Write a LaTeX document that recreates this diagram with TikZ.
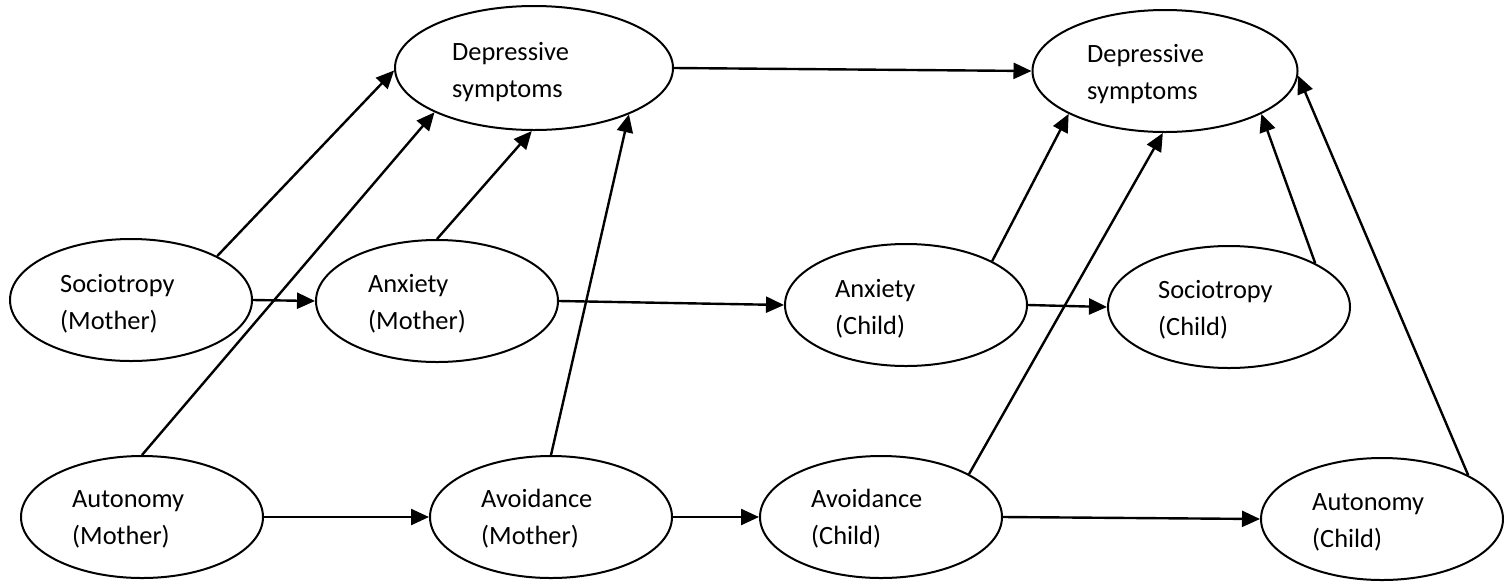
\documentclass[tikz,border=0pt]{standalone}
\usepackage{fontspec}
\setmainfont{Carlito}
\usetikzlibrary{shapes.geometric,arrows.meta}
\begin{document}
\begin{tikzpicture}[x=1pt,y=-1pt,
  ell/.style={ellipse,draw=black,line width=2pt,minimum width=242pt,minimum height=122pt,inner sep=0pt},
  lbl/.style={anchor=base west,align=left,inner sep=0pt,font=\fontsize{26.4}{37}\selectfont},
  arr/.style={-{Triangle[length=18pt,width=16pt]},line width=2.4pt}]
\useasboundingbox (0,0) rectangle (1504,582);

% latent variables
\node[ell,minimum width=278pt,minimum height=124pt] (dep1) at (534,68) {};
\node[ell,minimum width=265pt,minimum height=122pt] (dep2) at (1165,71) {};
\node[ell] (socm)  at (131,300) {};
\node[ell] (anxm)  at (437,301) {};
\node[ell] (anxc)  at (906,305) {};
\node[ell] (socc)  at (1229,307) {};
\node[ell] (autom) at (142,517) {};
\node[ell] (avm)   at (551,517) {};
\node[ell] (avc)   at (881,517) {};
\node[ell] (autoc) at (1382,519) {};

% labels, left-aligned inside each ellipse (anchored on the second line's baseline)
\node[lbl] (dep1-l)  at ([shift={(-82,29)}]dep1.center)  {Depressive\\symptoms};
\node[lbl] (dep2-l)  at ([shift={(-78,28)}]dep2.center)  {Depressive\\symptoms};
\node[lbl] (socm-l)  at ([shift={(-71,29)}]socm.center)  {Sociotropy\\(Mother)};
\node[lbl] (anxm-l)  at ([shift={(-69,28)}]anxm.center)  {Anxiety\\(Mother)};
\node[lbl] (anxc-l)  at ([shift={(-71,29)}]anxc.center)  {Anxiety\\(Child)};
\node[lbl] (socc-l)  at ([shift={(-71,28)}]socc.center)  {Sociotropy\\(Child)};
\node[lbl] (autom-l) at ([shift={(-70,27)}]autom.center) {Autonomy\\(Mother)};
\node[lbl] (avm-l)   at ([shift={(-70,27)}]avm.center)   {Avoidance\\(Mother)};
\node[lbl] (avc-l)   at ([shift={(-70,27)}]avc.center)   {Avoidance\\(Child)};
\node[lbl] (autoc-l) at ([shift={(-70,28)}]autoc.center)  {Autonomy\\(Child)};

% paths into the first depressive symptoms
\draw[arr] (socm.27)  -- (dep1.181);
\draw[arr] (autom.90) -- (dep1.204);
\draw[arr] (anxm.90)  -- (dep1.268);
\draw[arr] (avm.90)   -- (dep1.334);
\draw[arr] (dep1.0)   -- (dep2.180);

% horizontal paths
\draw[arr] (socm.0)  -- (anxm.180);
\draw[arr] (anxm.0)  -- (anxc.180);
\draw[arr] (anxc.0)  -- (socc.180);
\draw[arr] (autom.0) -- (avm.180);
\draw[arr] (avm.0)   -- (avc.180);
\draw[arr] (avc.0)   -- (autoc.180);

% paths into the second depressive symptoms
\draw[arr] (anxc.27)  -- (dep2.204);
\draw[arr] (avc.26)   -- (dep2.268);
\draw[arr] (socc.27)  -- (dep2.336);
\draw[arr] (autoc.27) -- (dep2.358);
\end{tikzpicture}
\end{document}
